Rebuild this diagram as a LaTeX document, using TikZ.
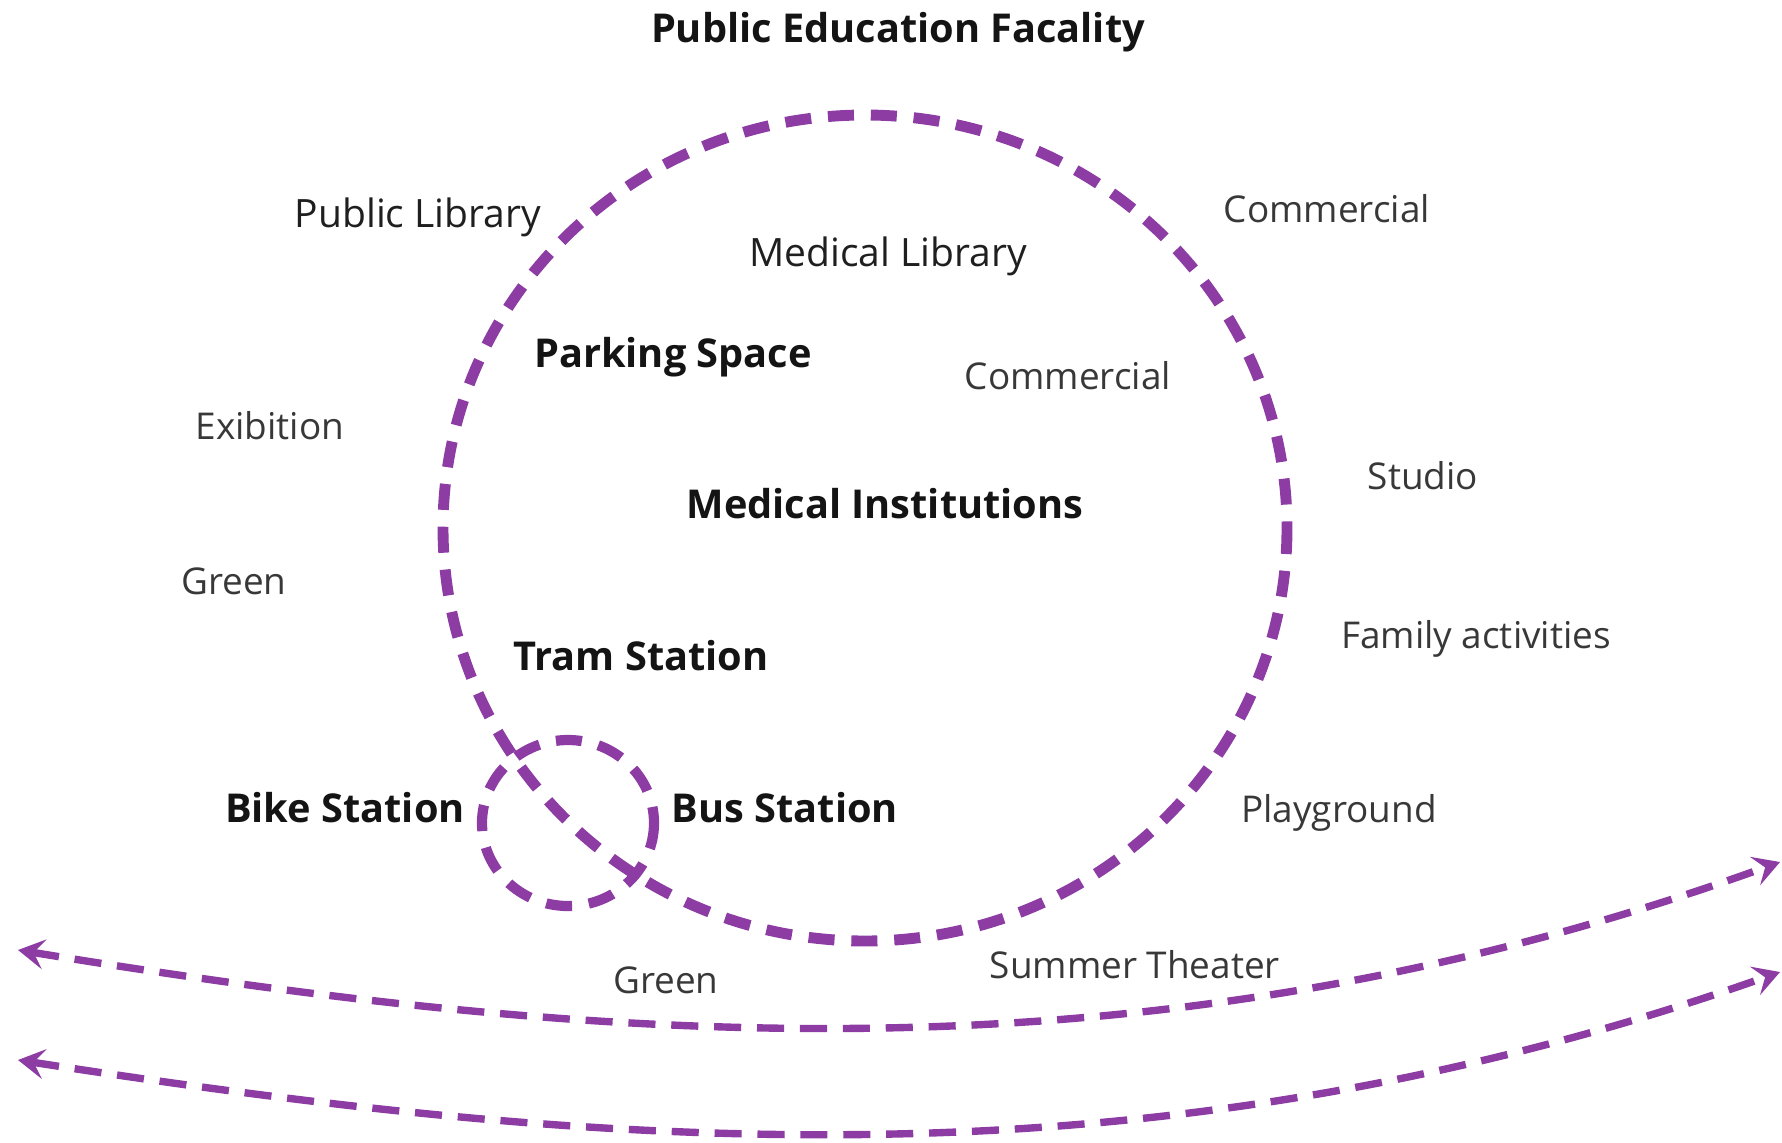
\documentclass[tikz,border=0pt]{standalone}
\usepackage{fontspec}
\setmainfont{Open Sans}
\usepackage{tikz}
\usetikzlibrary{arrows.meta, positioning}
\definecolor{routeviolet}{RGB}{140,60,163}

\begin{document}
\begin{tikzpicture}[x=0.01cm, y=-0.01cm,
            hub/.style={anchor=base, font=\fontsize{11.3}{13}\selectfont\bfseries, text=black!92},
            venue/.style={anchor=base, font=\fontsize{11.1}{13}\selectfont, text=black!88},
            spot/.style={anchor=base, font=\fontsize{10.5}{13}\selectfont, text=black!78},
            ring/.style={draw=routeviolet, line width=3.1pt, dash pattern=on 7.4pt off 4.8pt},
            flow/.style={draw=routeviolet, line width=2.1pt, dash pattern=on 7.7pt off 4.5pt,
                {Stealth[length=7.5pt, width=8.5pt, inset=3pt]}-{Stealth[length=7.5pt, width=8.5pt, inset=3pt]}}
        ]
            \useasboundingbox (0,0) rectangle (1782,1142);

% Rings
            \coordinate (core) at (865,528);
            \coordinate (transit) at (568,823);
            \draw[ring] (core) ellipse [x radius=422, y radius=413];
            \draw[ring, line width=2.9pt] (transit) ellipse [x radius=86, y radius=83];

% Flows
            \coordinate (upper_west) at (18,950);
            \coordinate (upper_east) at (1780,862);
            \coordinate (lower_west) at (18,1060);
            \coordinate (lower_east) at (1780,972);
            \draw[flow] (upper_west) .. controls (600,1045) and (1150,1090) .. (upper_east);
            \draw[flow] (lower_west) .. controls (600,1150) and (1150,1195) .. (lower_east);

% Inside the ring
            \node[hub] (title) at (898,42) {Public Education Facality};
            \node[venue] (med_library) at (888,266) {Medical Library};
            \node[hub] (parking) at (673,367) {Parking Space};
            \node[spot] (commercial_in) at (1068,389) {Commercial};
            \node[hub] (med_inst) at (885,518) {Medical Institutions};
            \node[hub] (tram) at (641,670) {Tram Station};
            \node[hub] (bike) at (345,822) {Bike Station};
            \node[hub] (bus) at (785,822) {Bus Station};

% Around the ring
            \node[venue] (pub_library) at (418,227) {Public Library};
            \node[spot] (commercial_out) at (1327,222) {Commercial};
            \node[spot] (exhibit) at (270,439) {Exibition};
            \node[spot] (studio) at (1423,489) {Studio};
            \node[spot] (green_west) at (234,594) {Green};
            \node[spot] (family) at (1476,648) {Family activities};
            \node[spot] (playground) at (1339,822) {Playground};
            \node[spot] (green_south) at (666,993) {Green};
            \node[spot] (theater) at (1135,978) {Summer Theater};

        \end{tikzpicture}
\end{document}
